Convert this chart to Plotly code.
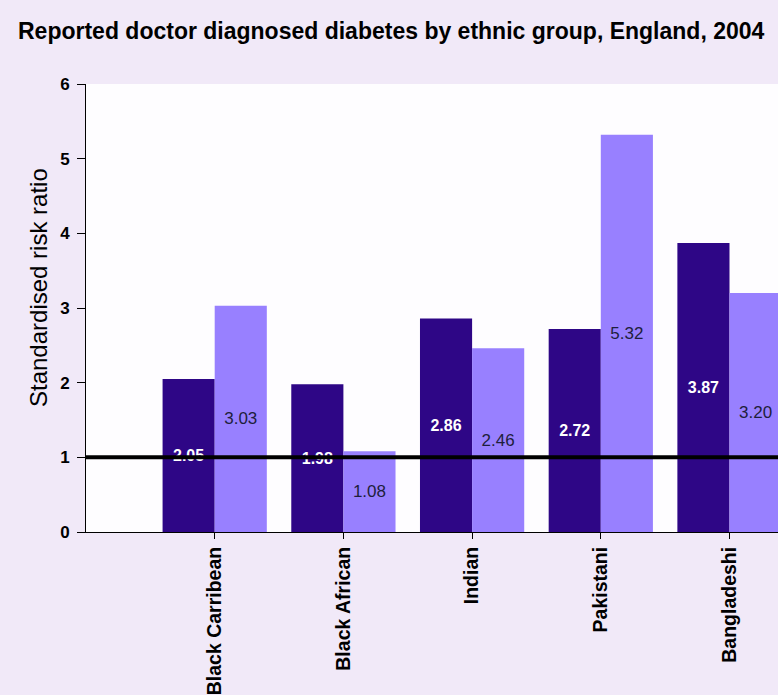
import plotly.graph_objects as go

# Standardised risk ratios of doctor-diagnosed diabetes, England 2004
categories = ["Black Carribean", "Black African", "Indian", "Pakistani", "Bangladeshi"]
men = [2.05, 1.98, 2.86, 2.72, 3.87]
women = [3.03, 1.08, 2.46, 5.32, 3.20]
y_ticks = [0, 1, 2, 3, 4, 5, 6]

W, H = 778, 695
L, R, T, B = 86, 0, 84, 163

DARK = "rgb(46,6,134)"
LIGHT = "rgb(152,128,255)"
PAPER = "rgb(241,233,248)"
FONT = "Liberation Sans, Arial"

x_pos = list(range(len(categories)))

fig = go.Figure()
fig.add_trace(go.Bar(
    x=x_pos, y=men, name="Men",
    marker=dict(color=DARK, line=dict(width=0)),
    text=[f"{v:.2f}" for v in men], textposition="inside",
    insidetextanchor="middle",
    textfont=dict(family=FONT, size=16, color="white", weight="bold"),
))
fig.add_trace(go.Bar(
    x=x_pos, y=women, name="Women",
    marker=dict(color=LIGHT, line=dict(width=0)),
    text=[f"{v:.2f}" for v in women], textposition="inside",
    insidetextanchor="middle",
    textfont=dict(family=FONT, size=17, color="rgb(30,30,60)"),
))

# reference line at a risk ratio of 1
fig.add_shape(type="line", xref="paper", yref="y", x0=0, x1=1, y0=1, y1=1,
              line=dict(color="black", width=4), layer="above")

fig.update_layout(
    width=W, height=H,
    margin=dict(l=L, r=R, t=T, b=B, autoexpand=False),
    paper_bgcolor=PAPER, plot_bgcolor="rgb(254,253,255)",
    barmode="group", bargap=0.19, bargroupgap=0,
    showlegend=False,
    font=dict(family=FONT, color="black"),
    title=dict(
        text="<b>Reported doctor diagnosed diabetes by ethnic group, England, 2004</b>",
        x=18 / W, xref="container", xanchor="left",
        y=1 - 31 / H, yref="container", yanchor="middle",
        font=dict(size=23, color="black"),
    ),
    xaxis=dict(
        range=[-1, -1 + (W - L) / 128.7],
        tickmode="array", tickvals=x_pos, ticktext=categories,
        tickangle=-90, ticks="outside", ticklen=6, tickwidth=1, tickcolor="black",
        tickfont=dict(size=19.5, weight="bold"),
        showline=True, linecolor="black", linewidth=1,
        showgrid=False, zeroline=False, automargin=False,
    ),
    yaxis=dict(
        range=[0, 6], tickmode="array", tickvals=y_ticks,
        ticks="outside", ticklen=8, tickwidth=1, tickcolor="black",
        ticklabelstandoff=4,
        tickfont=dict(size=17, weight="bold"),
        showline=True, linecolor="black", linewidth=1,
        showgrid=False, zeroline=False, automargin=False,
    ),
    annotations=[dict(
        text="Standardised risk ratio", textangle=-90,
        xref="paper", yref="paper",
        x=(38 - L) / (W - L - R), y=(532 - 288) / (532 - 84),
        xanchor="center", yanchor="middle", showarrow=False,
        font=dict(size=24, color="black"),
    )],
)

fig.write_html("out.html")
